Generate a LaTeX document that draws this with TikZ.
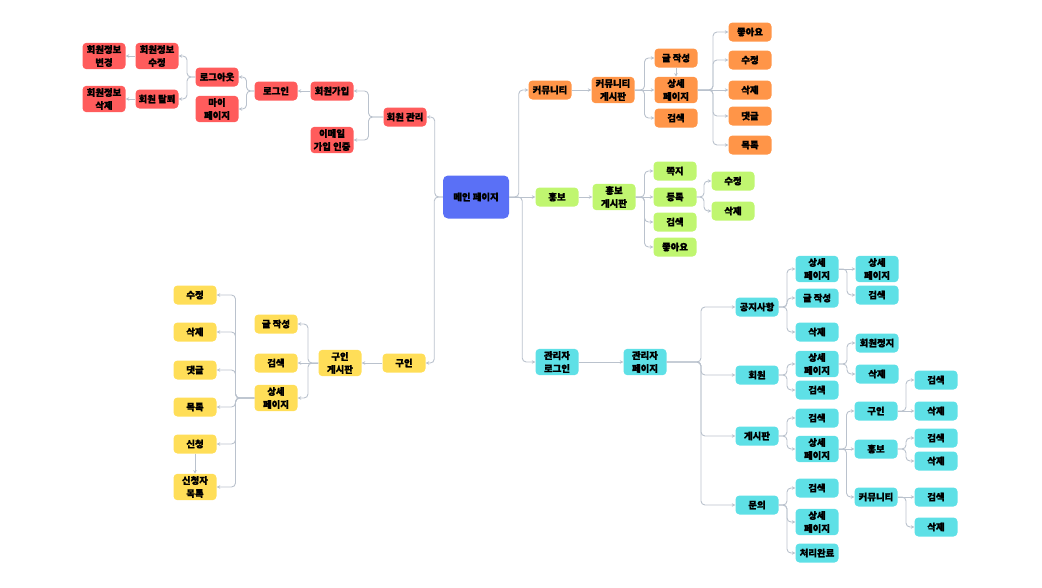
\documentclass[tikz,border=0pt]{standalone}
\usepackage{fontspec}
\newfontfamily\kr{Noto Sans CJK KR}[BoldFeatures={FakeBold=1}]
\usepackage{xcolor}
\usetikzlibrary{calc,arrows.meta}
\definecolor{mainblue}{RGB}{90,112,246}
\definecolor{redfill}{RGB}{255,92,92}
\definecolor{orangefill}{RGB}{255,149,72}
\definecolor{greenfill}{RGB}{192,246,112}
\definecolor{yellowfill}{RGB}{255,222,88}
\definecolor{cyanfill}{RGB}{94,224,230}
\definecolor{linegray}{RGB}{186,194,205}

\tikzset{
  box/.style={rounded corners=4pt, minimum width=43pt, minimum height=19pt,
    inner xsep=2pt, inner ysep=2.3pt, align=center,
    font=\kr\bfseries\fontsize{9.4}{13}\selectfont},
  rbox/.style={box, fill=redfill},
  obox/.style={box, fill=orangefill},
  gbox/.style={box, fill=greenfill},
  ybox/.style={box, fill=yellowfill},
  cbox/.style={box, fill=cyanfill},
  link/.style={draw=linegray, line width=0.9pt, rounded corners=4pt,
    -{Stealth[length=3.5pt,width=3.5pt]}},
  fork/.style={to path={let \p1=(\tikztostart), \p2=(\tikztotarget) in
    -- (\x1/2+\x2/2,\y1) |- (\tikztotarget) \tikztonodes}}
}

\begin{document}
\begin{tikzpicture}[x=1pt, y=-1pt]
  \useasboundingbox (0,0) rectangle (1042,587);

  % Main page
  \node[box, fill=mainblue, minimum width=66pt, minimum height=43pt,
    rounded corners=5pt] (main) at (476,197) {메인 페이지};

  % Members (red)
  \node[rbox] (mem)     at (405,117) {회원 관리};
  \node[rbox] (join)    at (332,91)  {회원가입};
  \node[rbox] (mail)    at (332,140) {이메일\\가입 인증};
  \node[rbox] (login)   at (276,91)  {로그인};
  \node[rbox] (logout)  at (217,77)  {로그아웃};
  \node[rbox] (mypage)  at (217,109) {마이\\페이지};
  \node[rbox] (infoed)  at (157,56)  {회원정보\\수정};
  \node[rbox] (quit)    at (157,99)  {회원 탈퇴};
  \node[rbox] (infoch)  at (104,56)  {회원정보\\변경};
  \node[rbox] (infodel) at (104,99)  {회원정보\\삭제};

  % Community (orange)
  \node[obox] (comm)   at (550,90)  {커뮤니티};
  \node[obox] (cboard) at (613,90)  {커뮤니티\\게시판};
  \node[obox] (cwrite) at (676,58)  {글 작성};
  \node[obox] (cdet)   at (676,90)  {상세\\페이지};
  \node[obox] (csrch)  at (676,118) {검색};
  \node[obox] (clike)  at (750,32)  {좋아요};
  \node[obox] (cedit)  at (750,60)  {수정};
  \node[obox] (cdel)   at (750,90)  {삭제};
  \node[obox] (ccmt)   at (750,116) {댓글};
  \node[obox] (clist)  at (750,145) {목록};

  % Promotion (green)
  \node[gbox] (promo)  at (557,197) {홍보};
  \node[gbox] (pboard) at (614,197) {홍보\\게시판};
  \node[gbox] (pnote)  at (675,171) {쪽지};
  \node[gbox] (preg)   at (675,197) {등록};
  \node[gbox] (psrch)  at (675,222) {검색};
  \node[gbox] (plike)  at (675,247) {좋아요};
  \node[gbox] (pedit)  at (733,181) {수정};
  \node[gbox] (pdel)   at (733,211) {삭제};

  % Jobs (yellow)
  \node[ybox] (job)    at (404,363) {구인};
  \node[ybox] (jboard) at (340,363) {구인\\게시판};
  \node[ybox] (jwrite) at (276,324) {글 작성};
  \node[ybox] (jsrch)  at (276,363) {검색};
  \node[ybox] (jdet)   at (276,398) {상세\\페이지};
  \node[ybox] (jedit)  at (195,295) {수정};
  \node[ybox] (jdel)   at (195,332) {삭제};
  \node[ybox] (jcmt)   at (195,370) {댓글};
  \node[ybox] (jlist)  at (195,407) {목록};
  \node[ybox] (japp)   at (195,444) {신청};
  \node[ybox] (japps)  at (195,487) {신청자\\목록};

  % Admin (cyan)
  \node[cbox] (alogin) at (557,362) {관리자\\로그인};
  \node[cbox] (apage)  at (645,362) {관리자\\페이지};
  \node[cbox] (notice) at (757,307) {공지사항};
  \node[cbox] (amem)   at (757,375) {회원};
  \node[cbox] (aboard) at (757,436) {게시판};
  \node[cbox] (ask)    at (757,505) {문의};
  \node[cbox] (ndet)   at (817,269) {상세\\페이지};
  \node[cbox] (nwrite) at (817,298) {글 작성};
  \node[cbox] (ndel)   at (817,332) {삭제};
  \node[cbox] (ndet2)  at (877,269) {상세\\페이지};
  \node[cbox] (nsrch)  at (877,295) {검색};
  \node[cbox] (mdet)   at (817,364) {상세\\페이지};
  \node[cbox] (msrch)  at (817,390) {검색};
  \node[cbox] (mstop)  at (877,343) {회원정지};
  \node[cbox] (mdel)   at (877,374) {삭제};
  \node[cbox] (bsrch)  at (817,418) {검색};
  \node[cbox] (bdet)   at (817,449) {상세\\페이지};
  \node[cbox] (bjob)   at (876,411) {구인};
  \node[cbox] (bpromo) at (876,449) {홍보};
  \node[cbox] (bcomm)  at (876,497) {커뮤니티};
  \node[cbox] (bjsrch) at (936,380) {검색};
  \node[cbox] (bjdel)  at (936,411) {삭제};
  \node[cbox] (bpsrch) at (936,438) {검색};
  \node[cbox] (bpdel)  at (936,461) {삭제};
  \node[cbox] (bcsrch) at (936,497) {검색};
  \node[cbox] (bcdel)  at (936,527) {삭제};
  \node[cbox] (qsrch)  at (817,488) {검색};
  \node[cbox] (qdet)   at (817,522) {상세\\페이지};
  \node[cbox] (qdone)  at (817,553) {처리완료};

  % Connectors from main
  \draw[link] (main.west) to[fork] (mem.east);
  \draw[link] (main.west) to[fork] (job.east);
  \draw[link] (main.east) to[fork] (comm.west);
  \draw[link] (main.east) -- (promo.west);
  \draw[link] (main.east) to[fork] (alogin.west);

  % Members
  \foreach \c in {join,mail} \draw[link] (mem.west) to[fork] (\c.east);
  \draw[link] (join.west) -- (login.east);
  \foreach \c in {logout,mypage} \draw[link] (login.west) to[fork] (\c.east);
  \foreach \c in {infoed,quit} \draw[link] (logout.west) to[fork] (\c.east);
  \draw[link] (infoed.west) -- (infoch.east);
  \draw[link] (quit.west) -- (infodel.east);

  % Community
  \draw[link] (comm.east) -- (cboard.west);
  \foreach \c in {cwrite,csrch} \draw[link] (cboard.east) to[fork] (\c.west);
  \draw[link] (cboard.east) -- (cdet.west);
  \draw[link] (cwrite.south) -- (cdet.north);
  \foreach \c in {clike,cedit,ccmt,clist} \draw[link] (cdet.east) to[fork] (\c.west);
  \draw[link] (cdet.east) -- (cdel.west);

  % Promotion
  \draw[link] (promo.east) -- (pboard.west);
  \foreach \c in {pnote,psrch,plike} \draw[link] (pboard.east) to[fork] (\c.west);
  \draw[link] (pboard.east) -- (preg.west);
  \foreach \c in {pedit,pdel} \draw[link] (preg.east) to[fork] (\c.west);

  % Jobs
  \draw[link] (job.west) -- (jboard.east);
  \foreach \c in {jwrite,jdet} \draw[link] (jboard.west) to[fork] (\c.east);
  \draw[link] (jboard.west) -- (jsrch.east);
  \foreach \c in {jedit,jdel,jcmt,jlist,japp,japps}
    \draw[link] (jdet.west) to[fork] (\c.east);
  \draw[link] (japp.south) -- (japps.north);

  % Admin
  \draw[link] (alogin.east) -- (apage.west);
  \foreach \c in {notice,amem,aboard,ask} \draw[link] (apage.east) to[fork] (\c.west);
  \foreach \c in {ndet,nwrite,ndel} \draw[link] (notice.east) to[fork] (\c.west);
  \draw[link] (ndet.east) -- (ndet2.west);
  \draw[link] (ndet.east) to[fork] (nsrch.west);
  \foreach \c in {mdet,msrch} \draw[link] (amem.east) to[fork] (\c.west);
  \foreach \c in {mstop,mdel} \draw[link] (mdet.east) to[fork] (\c.west);
  \foreach \c in {bsrch,bdet} \draw[link] (aboard.east) to[fork] (\c.west);
  \foreach \c in {bjob,bcomm} \draw[link] (bdet.east) to[fork] (\c.west);
  \draw[link] (bdet.east) -- (bpromo.west);
  \draw[link] (bjob.east) to[fork] (bjsrch.west);
  \draw[link] (bjob.east) -- (bjdel.west);
  \foreach \c in {bpsrch,bpdel} \draw[link] (bpromo.east) to[fork] (\c.west);
  \draw[link] (bcomm.east) -- (bcsrch.west);
  \draw[link] (bcomm.east) to[fork] (bcdel.west);
  \foreach \c in {qsrch,qdet,qdone} \draw[link] (ask.east) to[fork] (\c.west);
\end{tikzpicture}
\end{document}
